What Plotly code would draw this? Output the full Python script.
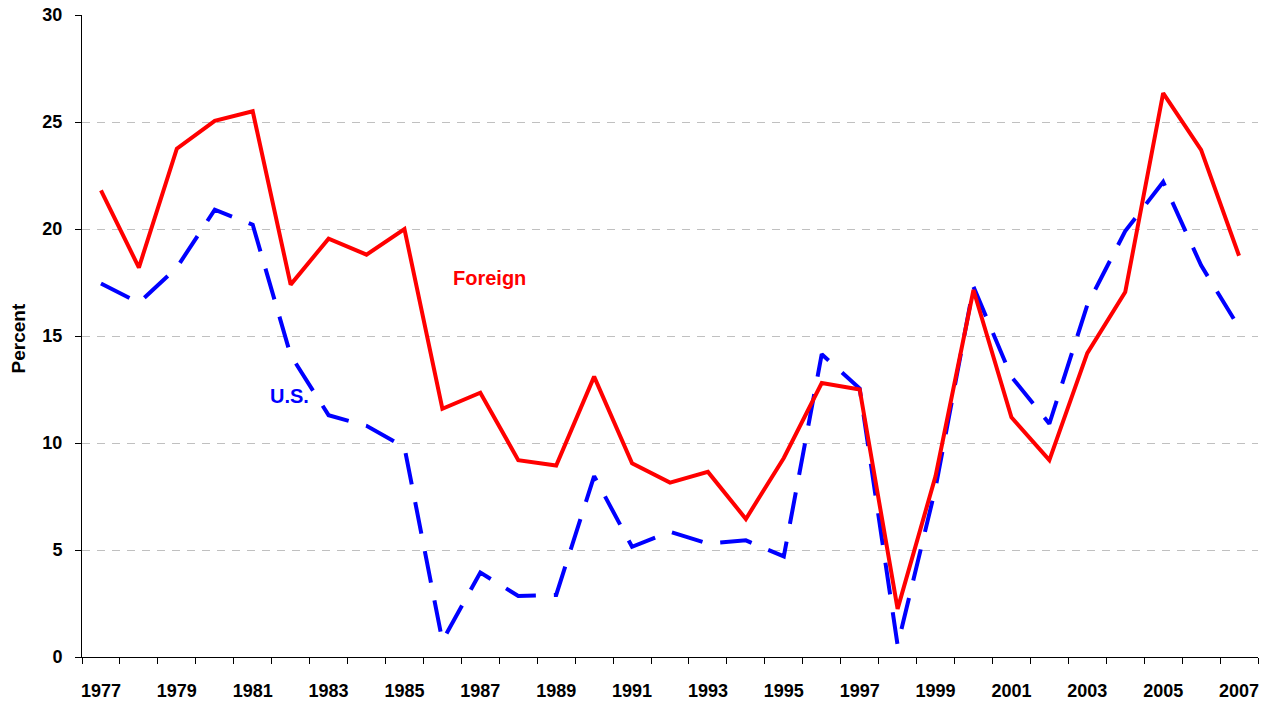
import plotly.graph_objects as go

# ---- data ----
years = list(range(1977, 2008))
foreign = [21.8, 18.2, 23.75, 25.05, 25.5, 17.4, 19.55, 18.8, 20.0, 11.6,
           12.35, 9.2, 8.95, 13.1, 9.05, 8.15, 8.65, 6.45, 9.3, 12.8,
           12.5, 2.25, 8.45, 17.15, 11.2, 9.2, 14.2, 17.05, 26.35, 23.7,
           18.75]
us = [17.45, 16.55, 18.2, 20.9, 20.2, 14.1, 11.3, 10.8, 9.8, 0.75,
      3.95, 2.85, 2.9, 8.45, 5.15, 5.85, 5.3, 5.45, 4.7, 14.15,
      12.55, 0.55, 7.9, 17.3, 13.1, 10.9, 16.45, 19.9, 22.2, 18.3,
      15.4]
tick_years = years[::2]
tick_labels = [str(y) for y in tick_years]
y_ticks = [0, 5, 10, 15, 20, 25, 30]

FONT = "Liberation Sans, Arial, sans-serif"

fig = go.Figure()
fig.add_trace(go.Scatter(
    x=years, y=us, mode="lines", name="U.S.",
    line=dict(color="#0000FF", width=4, dash="32px,18px"),
))
fig.add_trace(go.Scatter(
    x=years, y=foreign, mode="lines", name="Foreign",
    line=dict(color="#FF0000", width=4),
))

boundaries = [y - 0.5 for y in years] + [years[-1] + 0.5]

fig.update_layout(
    width=1277, height=702,
    margin=dict(l=82, r=19, t=15, b=45),
    paper_bgcolor="white", plot_bgcolor="white",
    showlegend=False,
    font=dict(family=FONT, color="black"),
    xaxis=dict(
        range=[years[0] - 0.5, years[-1] + 0.5],
        tickmode="array", tickvals=tick_years, ticktext=tick_labels,
        ticks="outside", ticklen=6, tickcolor="rgba(0,0,0,0)",
        showgrid=False, zeroline=False, automargin=False,
        ticklabeloverflow="allow",
        showline=True, linecolor="black", linewidth=1,
        tickfont=dict(family=FONT, size=18, color="black", weight="bold"),
        ticklabelstandoff=11,
        minor=dict(tickmode="array", tickvals=boundaries, ticks="outside",
                   ticklen=6, tickwidth=1, tickcolor="black", showgrid=False),
    ),
    yaxis=dict(
        range=[0, 30],
        tickmode="array", tickvals=y_ticks,
        ticks="outside", ticklen=6, tickwidth=1, tickcolor="black",
        showgrid=True, gridcolor="#c0c0c0", gridwidth=1, griddash="8px,7px",
        zeroline=False, automargin=False, ticklabeloverflow="allow",
        showline=True, linecolor="black", linewidth=1,
        tickfont=dict(family=FONT, size=18, color="black", weight="bold"),
        ticklabelstandoff=9,
    ),
    annotations=[
        dict(x=1987.25, y=17.7, xref="x", yref="y", text="Foreign",
             showarrow=False, xanchor="center", yanchor="middle",
             font=dict(family=FONT, size=20, color="#FF0000", weight="bold")),
        dict(x=1981.97, y=12.2, xref="x", yref="y", text="U.S.",
             showarrow=False, xanchor="center", yanchor="middle",
             font=dict(family=FONT, size=20, color="#0000FF", weight="bold")),
        dict(x=-0.054, y=0.497, xref="paper", yref="paper", text="Percent",
             textangle=-90, showarrow=False, xanchor="center", yanchor="middle",
             font=dict(family=FONT, size=19, color="black", weight="bold")),
    ],
)

fig.write_html(
    "out.html",
    config={"displayModeBar": False},
    post_script="document.body.style.margin='0';document.body.style.overflow='hidden';",
)
